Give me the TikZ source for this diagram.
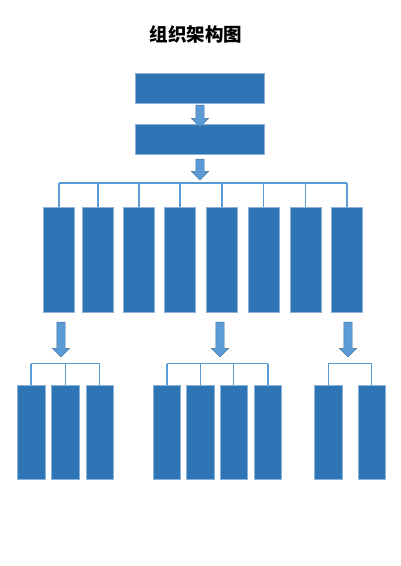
\documentclass[tikz,border=0pt]{standalone}
\usepackage{fontspec}
\newfontfamily\cjk{Noto Sans CJK SC}
\usetikzlibrary{shapes.arrows}
\definecolor{boxblue}{RGB}{46,117,182}
\definecolor{lineblue}{RGB}{91,155,213}
\definecolor{arrowedge}{RGB}{65,113,156}
\begin{document}
\begin{tikzpicture} [
  x=1pt, y=-1pt,
  org box/.style= {rectangle,fill=boxblue,draw=boxblue!55!white,line width=0.6pt,inner sep=0},
  top box/.style= {org box,minimum width=129pt,minimum height=30pt},
  mid box/.style= {org box,minimum width=31pt,minimum height=105pt},
  sub box/.style= {org box,minimum width=27.5pt,minimum height=94pt},
  link line/.style= {draw=lineblue,line width=1.5pt},
  down arrow/.style= {single arrow,rotate=-90,fill=lineblue,draw=arrowedge,line width=0.4pt,
    inner xsep=0,inner ysep=4pt,single arrow head extend=4.5pt,single arrow head indent=0pt},
]
\useasboundingbox (0,0) rectangle (400,566);
\node (title) at (196,34) {\cjk\bfseries\fontsize{18.5}{20}\selectfont 组织架构图};

\node (T1) [top box] at (199.5,88) {};
\node (T2) [top box] at (199.5,139.5) {};
\node (A1) [down arrow,minimum height=22pt] at (200,114) {};
\node (A2) [down arrow,minimum height=21pt] at (200,167.5) {};

% middle row
\coordinate (bus) at (0,183);
\foreach \x [count=\i] in {58.8,98,139.2,180.2,222.2,263.5,305.5,347}
  {\node (M\i) [mid box] at (\x,259.5) {};
   \draw [link line] (M\i.north) -- (M\i.north |- bus);}
\draw [link line] (M1.north |- bus) -- (M8.north |- bus);

\node (A3) [down arrow,minimum height=35pt] at (61,337.5) {};
\node (A4) [down arrow,minimum height=35pt] at (220,337.5) {};
\node (A5) [down arrow,minimum height=35pt] at (348,337.5) {};

% bottom groups
\coordinate (lowbus) at (0,363.5);
\foreach \x [count=\i] in {31.2,65.3,99.7}
  {\node (L\i) [sub box] at (\x,432) {};
   \draw [link line] (L\i.north) -- (L\i.north |- lowbus);}
\draw [link line] (L1.north |- lowbus) -- (L3.north |- lowbus);

\foreach \x [count=\i] in {167,200.5,233.7,267.8}
  {\node (C\i) [sub box] at (\x,432) {};
   \draw [link line] (C\i.north) -- (C\i.north |- lowbus);}
\draw [link line] (C1.north |- lowbus) -- (C4.north |- lowbus);

\foreach \x [count=\i] in {328.3,371.7}
  {\node (R\i) [sub box] at (\x,432) {};
   \draw [link line] (R\i.north) -- (R\i.north |- lowbus);}
\draw [link line] (R1.north |- lowbus) -- (R2.north |- lowbus);
\end{tikzpicture}
\end{document}
